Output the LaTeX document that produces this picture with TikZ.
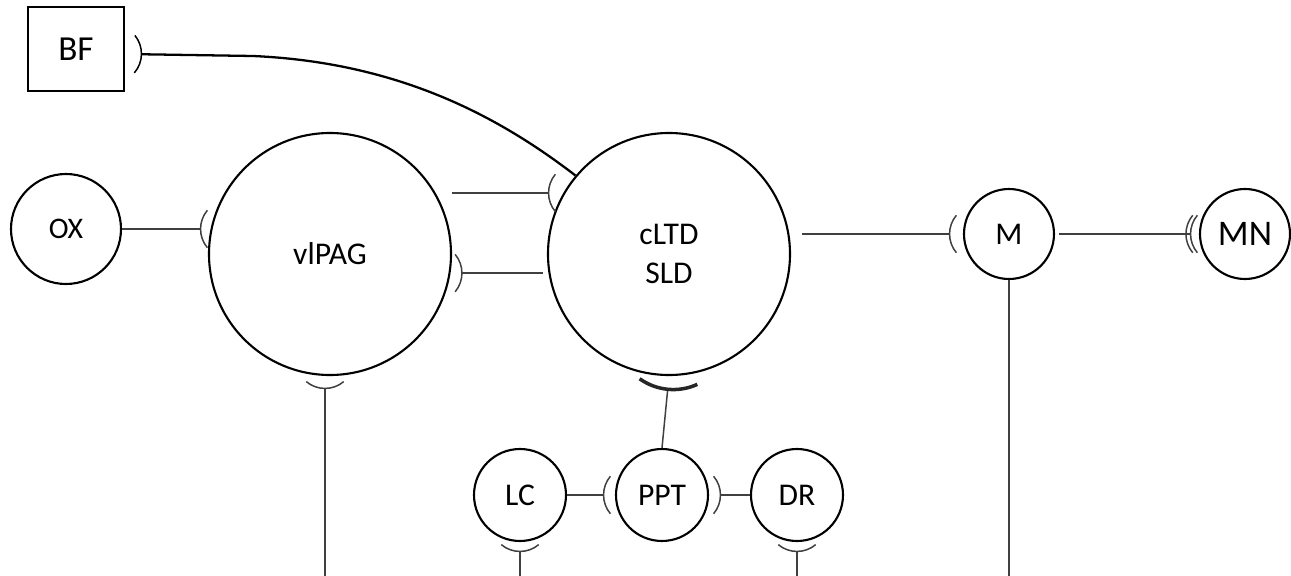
\documentclass[tikz,border=0pt]{standalone}
\usepackage{fontspec}
\setmainfont{Carlito}
\usetikzlibrary{arrows.meta,calc}

\begin{document}
\begin{tikzpicture}[
    area/.style={circle,draw,line width=1.2pt,inner sep=0pt,font=\fontsize{18}{22}\selectfont},
    link/.style={draw=black!75,line width=0.85pt},
    Syn/.tip={Arc Barb[reversed,arc=80,length=17pt,width=34pt,line width=0.85pt 0]},
    BigSyn/.tip={Arc Barb[reversed,arc=60,length=34pt,width=68pt,line width=2pt 0,color=black!85]}
  ]
  \useasboundingbox (0,0) rectangle (25.82,-11.52);
  % areas
  \node[draw,rectangle,line width=1.2pt,minimum width=1.92cm,minimum height=1.68cm,font=\fontsize{20}{22}\selectfont] (BF) at (1.52,-0.98) {BF};
  \node[area,minimum size=2.2cm,font=\fontsize{17}{20}\selectfont] (OX) at (1.32,-4.58) {OX};
  \node[area,minimum size=4.84cm] (vlPAG) at (6.6,-5.08) {vlPAG};
  \node[area,minimum size=4.84cm,align=center] (cLTD) at (13.38,-5.08) {cLTD\\SLD};
  \node[area,minimum size=1.8cm] (M) at (20.18,-4.68) {M};
  \node[area,minimum size=1.8cm,font=\fontsize{20.5}{22}\selectfont] (MN) at (24.9,-4.68) {MN};
  \node[area,minimum size=1.84cm] (LC) at (10.4,-9.9) {LC};
  \node[area,minimum size=1.84cm] (PPT) at (13.24,-9.9) {PPT};
  \node[area,minimum size=1.84cm] (DR) at (15.94,-9.9) {DR};
  % free ends at the lower edge
  \coordinate (vlPAGend) at (6.5,-11.52);
  \coordinate (LCend) at (10.4,-11.52);
  \coordinate (DRend) at (15.94,-11.52);
  \coordinate (Mend) at (20.18,-11.52);
  % connections
  \draw[line width=1.3pt,Syn-,shorten <=0.18cm] ([yshift=-0.1cm]BF.east) -- (5.06,-1.12) .. controls (8,-1.25) and (10,-2.35) .. (cLTD.140);
  \draw[link,-Syn] (OX.east) -- (OX.east -| vlPAG.west);
  \draw[link,-Syn,shorten >=-0.18cm] (vlPAG.30 -| vlPAG.east) -- (vlPAG.30 -| cLTD.west);
  \draw[link,Syn-,shorten <=0.08cm,shorten >=0.08cm] (vlPAG.351) -- (vlPAG.351 -| cLTD.west);
  \draw[link,-Syn,shorten <=0.22cm,shorten >=0.12cm] (M.west -| cLTD.east) -- (M.west);
  \draw[link,-{Syn[sep=-2pt]Syn[]},shorten <=0.08cm,shorten >=0.02cm] (M.east) -- (MN.west);
  \draw[link,-BigSyn,shorten >=0.08cm] (PPT.north) -- (cLTD.south);
  \draw[link,-Syn,shorten >=0.08cm] (LC) -- (PPT);
  \draw[link,Syn-,shorten <=0.08cm] (PPT) -- (DR);
  \draw[link,Syn-,shorten <=0.1cm] ([xshift=-0.1cm]vlPAG.south) -- (vlPAGend);
  \draw[link,Syn-,shorten <=0.04cm] (LC.south) -- (LCend);
  \draw[link,Syn-,shorten <=0.04cm] (DR.south) -- (DRend);
  \draw[link] (M.south) -- (Mend);
\end{tikzpicture}
\end{document}
